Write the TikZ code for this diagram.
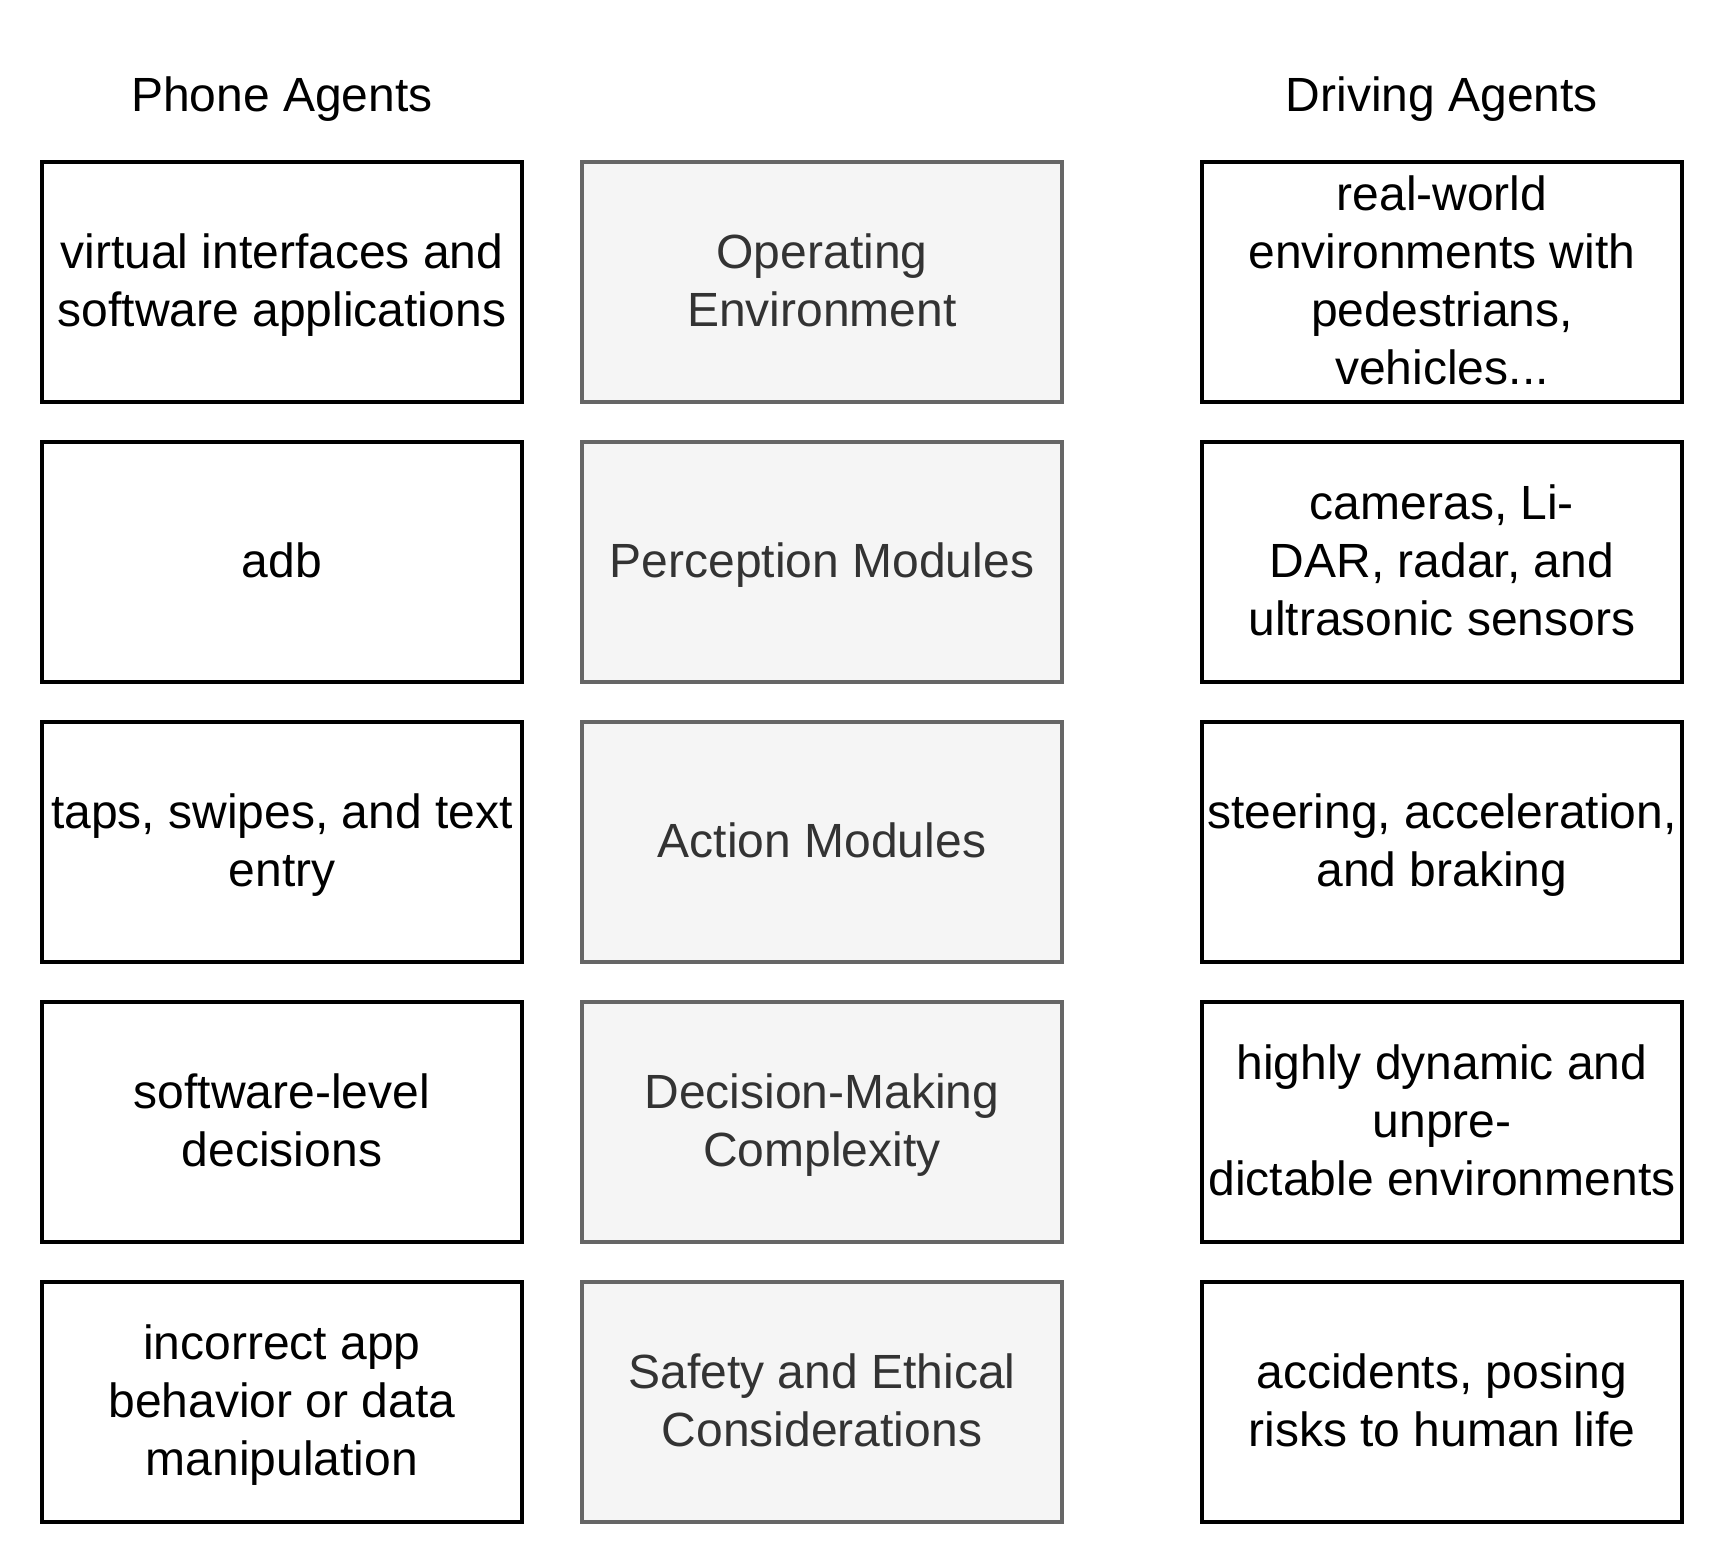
\documentclass[tikz,border=0pt]{standalone}
\usepackage{fontspec}
\setmainfont{Liberation Sans}
\usetikzlibrary{positioning}
\definecolor{aspectdraw}{HTML}{666666}
\definecolor{aspectfill}{HTML}{F5F5F5}
\definecolor{aspecttext}{HTML}{333333}
\newcommand\linestrut{\rule[-6.7pt]{0pt}{29pt}}
\tikzset{
  x=0.5pt,
  y=-0.5pt,
  node distance=140pt,
  every node/.style={font=\fontsize{24}{29}\selectfont,
                     execute at begin node=\linestrut,
                     execute at end node=\linestrut},
  agent/.style={draw=black, line width=1.6pt, minimum width=240pt,
                minimum height=120pt, inner sep=0pt, text width=240pt,
                align=flush center},
  aspect/.style={agent, draw=aspectdraw, fill=aspectfill, text=aspecttext},
}
\begin{document}
\begin{tikzpicture}
      \useasboundingbox (0,0) rectangle (1724,1564);

      % phone agents
      \node[agent] (p1) at (282,282) {virtual interfaces and\\software applications};
      \node[agent,below of=p1] (p2) {adb};
      \node[agent,below of=p2] (p3) {taps, swipes, and text\\entry};
      \node[agent,below of=p3] (p4) {software-level\\decisions};
      \node[agent,below of=p4] (p5) {incorrect app\\behavior or data\\manipulation};

      % aspects
      \node[aspect,right of=p1,node distance=270pt] (m1) {Operating\\Environment};
      \node[aspect,below of=m1] (m2) {Perception Modules};
      \node[aspect,below of=m2] (m3) {Action Modules};
      \node[aspect,below of=m3] (m4) {Decision-Making\\Complexity};
      \node[aspect,below of=m4] (m5) {Safety and Ethical\\Considerations};

      % driving agents
      \node[agent,right of=m1,node distance=310pt] (d1) {real-world\\environments with\\pedestrians,\\vehicles...};
      \node[agent,below of=d1] (d2) {cameras, Li-\\DAR, radar, and\\ultrasonic sensors};
      \node[agent,below of=d2] (d3) {steering, acceleration,\\and braking};
      \node[agent,below of=d3] (d4) {highly dynamic and\\unpre-\\dictable environments};
      \node[agent,below of=d4] (d5) {accidents, posing\\risks to human life};

      \node[above of=p1,node distance=93pt] (phone) {Phone Agents};
      \node[above of=d1,node distance=93pt] (driving) {Driving Agents};
\end{tikzpicture}
\end{document}
